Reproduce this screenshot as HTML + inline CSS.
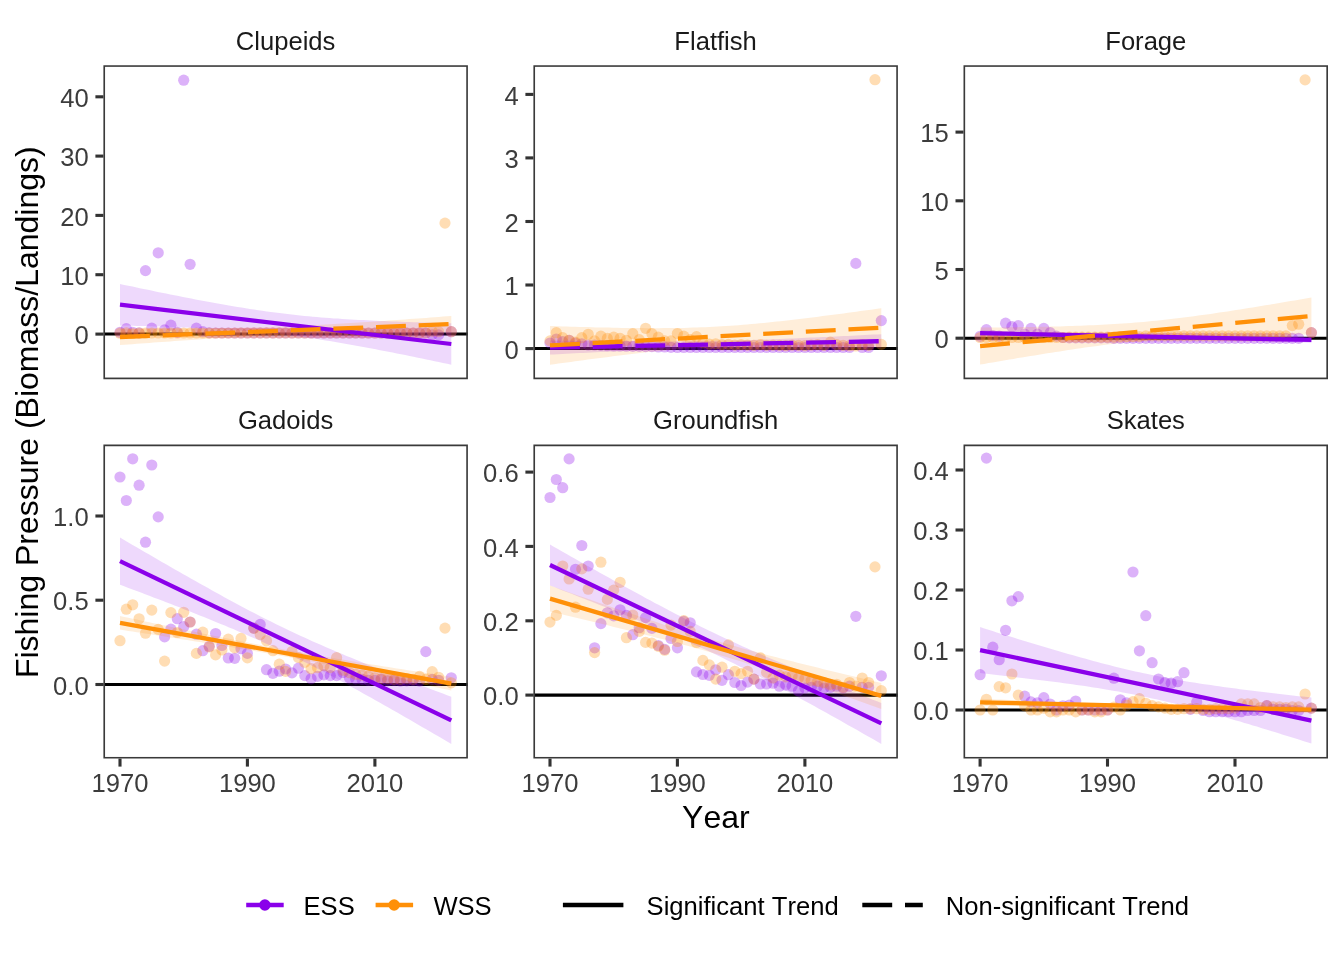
<!DOCTYPE html>
<html lang="en"><head><meta charset="utf-8"><title>Fishing Pressure</title>
<style>html,body{margin:0;padding:0;background:#fff}svg{display:block}text{font-family:"Liberation Sans",sans-serif;font-kerning:none}</style></head><body>
<svg width="1344" height="960" viewBox="0 0 1344 960">
<rect width="1344" height="960" fill="#fff"/>
<defs>
<clipPath id="c0"><rect x="103.4" y="65.2" width="364.5" height="314.00"/></clipPath>
<clipPath id="c1"><rect x="533.4" y="65.2" width="364.5" height="314.00"/></clipPath>
<clipPath id="c2"><rect x="963.5" y="65.2" width="364.5" height="314.00"/></clipPath>
<clipPath id="c3"><rect x="103.4" y="444.6" width="364.5" height="314.00"/></clipPath>
<clipPath id="c4"><rect x="533.4" y="444.6" width="364.5" height="314.00"/></clipPath>
<clipPath id="c5"><rect x="963.5" y="444.6" width="364.5" height="314.00"/></clipPath>
</defs>
<g clip-path="url(#c0)">
<line x1="103.4" x2="467.9" y1="334.05" y2="334.05" stroke="#000" stroke-width="3.1"/>
<g fill="#8A00EA" fill-opacity="0.3">
<circle cx="120.0" cy="332.3" r="5.6"/>
<circle cx="126.3" cy="328.7" r="5.6"/>
<circle cx="132.7" cy="332.3" r="5.6"/>
<circle cx="139.1" cy="332.9" r="5.6"/>
<circle cx="145.5" cy="270.6" r="5.6"/>
<circle cx="151.8" cy="328.1" r="5.6"/>
<circle cx="158.2" cy="252.8" r="5.6"/>
<circle cx="164.6" cy="329.9" r="5.6"/>
<circle cx="170.9" cy="325.2" r="5.6"/>
<circle cx="177.3" cy="332.3" r="5.6"/>
<circle cx="183.7" cy="80.2" r="5.6"/>
<circle cx="190.1" cy="264.3" r="5.6"/>
<circle cx="196.4" cy="328.1" r="5.6"/>
<circle cx="202.8" cy="331.7" r="5.6"/>
<circle cx="209.2" cy="332.9" r="5.6"/>
<circle cx="215.6" cy="333.0" r="5.6"/>
<circle cx="221.9" cy="333.0" r="5.6"/>
<circle cx="228.3" cy="333.0" r="5.6"/>
<circle cx="234.7" cy="333.0" r="5.6"/>
<circle cx="241.0" cy="333.0" r="5.6"/>
<circle cx="247.4" cy="333.0" r="5.6"/>
<circle cx="253.8" cy="333.0" r="5.6"/>
<circle cx="260.2" cy="333.0" r="5.6"/>
<circle cx="266.5" cy="333.0" r="5.6"/>
<circle cx="272.9" cy="333.0" r="5.6"/>
<circle cx="279.3" cy="333.0" r="5.6"/>
<circle cx="285.6" cy="333.0" r="5.6"/>
<circle cx="292.0" cy="333.0" r="5.6"/>
<circle cx="298.4" cy="333.0" r="5.6"/>
<circle cx="304.8" cy="333.0" r="5.6"/>
<circle cx="311.1" cy="333.0" r="5.6"/>
<circle cx="317.5" cy="333.0" r="5.6"/>
<circle cx="323.9" cy="333.0" r="5.6"/>
<circle cx="330.3" cy="333.0" r="5.6"/>
<circle cx="336.6" cy="333.0" r="5.6"/>
<circle cx="343.0" cy="333.0" r="5.6"/>
<circle cx="349.4" cy="333.0" r="5.6"/>
<circle cx="355.7" cy="333.0" r="5.6"/>
<circle cx="362.1" cy="333.0" r="5.6"/>
<circle cx="368.5" cy="333.0" r="5.6"/>
<circle cx="374.9" cy="333.0" r="5.6"/>
<circle cx="381.2" cy="333.0" r="5.6"/>
<circle cx="387.6" cy="333.0" r="5.6"/>
<circle cx="394.0" cy="333.0" r="5.6"/>
<circle cx="400.4" cy="333.0" r="5.6"/>
<circle cx="406.7" cy="333.0" r="5.6"/>
<circle cx="413.1" cy="333.0" r="5.6"/>
<circle cx="419.5" cy="333.0" r="5.6"/>
<circle cx="425.8" cy="333.0" r="5.6"/>
<circle cx="432.2" cy="334.8" r="5.6"/>
<circle cx="438.6" cy="334.9" r="5.6"/>
<circle cx="451.3" cy="331.7" r="5.6"/>
</g>
<g fill="#FF9008" fill-opacity="0.3">
<circle cx="120.0" cy="333.2" r="5.6"/>
<circle cx="126.3" cy="332.9" r="5.6"/>
<circle cx="132.7" cy="333.5" r="5.6"/>
<circle cx="139.1" cy="333.0" r="5.6"/>
<circle cx="145.5" cy="333.0" r="5.6"/>
<circle cx="151.8" cy="333.0" r="5.6"/>
<circle cx="158.2" cy="333.0" r="5.6"/>
<circle cx="164.6" cy="333.0" r="5.6"/>
<circle cx="170.9" cy="333.0" r="5.6"/>
<circle cx="177.3" cy="333.0" r="5.6"/>
<circle cx="183.7" cy="333.0" r="5.6"/>
<circle cx="190.1" cy="333.0" r="5.6"/>
<circle cx="196.4" cy="333.0" r="5.6"/>
<circle cx="202.8" cy="333.0" r="5.6"/>
<circle cx="209.2" cy="333.0" r="5.6"/>
<circle cx="215.6" cy="333.0" r="5.6"/>
<circle cx="221.9" cy="333.0" r="5.6"/>
<circle cx="228.3" cy="333.0" r="5.6"/>
<circle cx="234.7" cy="333.0" r="5.6"/>
<circle cx="241.0" cy="333.0" r="5.6"/>
<circle cx="247.4" cy="333.0" r="5.6"/>
<circle cx="253.8" cy="333.0" r="5.6"/>
<circle cx="260.2" cy="333.0" r="5.6"/>
<circle cx="266.5" cy="333.0" r="5.6"/>
<circle cx="272.9" cy="333.0" r="5.6"/>
<circle cx="279.3" cy="333.0" r="5.6"/>
<circle cx="285.6" cy="333.0" r="5.6"/>
<circle cx="292.0" cy="333.0" r="5.6"/>
<circle cx="298.4" cy="333.0" r="5.6"/>
<circle cx="304.8" cy="333.0" r="5.6"/>
<circle cx="311.1" cy="333.0" r="5.6"/>
<circle cx="317.5" cy="333.0" r="5.6"/>
<circle cx="323.9" cy="333.0" r="5.6"/>
<circle cx="330.3" cy="333.0" r="5.6"/>
<circle cx="336.6" cy="333.0" r="5.6"/>
<circle cx="343.0" cy="333.0" r="5.6"/>
<circle cx="349.4" cy="333.0" r="5.6"/>
<circle cx="355.7" cy="333.0" r="5.6"/>
<circle cx="362.1" cy="333.0" r="5.6"/>
<circle cx="368.5" cy="333.0" r="5.6"/>
<circle cx="374.9" cy="333.0" r="5.6"/>
<circle cx="381.2" cy="333.0" r="5.6"/>
<circle cx="387.6" cy="333.0" r="5.6"/>
<circle cx="394.0" cy="333.0" r="5.6"/>
<circle cx="400.4" cy="333.0" r="5.6"/>
<circle cx="406.7" cy="333.0" r="5.6"/>
<circle cx="413.1" cy="333.0" r="5.6"/>
<circle cx="419.5" cy="333.0" r="5.6"/>
<circle cx="425.8" cy="333.0" r="5.6"/>
<circle cx="432.2" cy="331.4" r="5.6"/>
<circle cx="438.6" cy="331.7" r="5.6"/>
<circle cx="445.0" cy="223.1" r="5.6"/>
<circle cx="451.3" cy="331.7" r="5.6"/>
</g>
<polygon points="120.0,284.0 124.2,284.9 128.4,285.8 132.6,286.6 136.7,287.5 140.9,288.4 145.1,289.3 149.3,290.1 153.5,291.0 157.7,291.9 161.9,292.7 166.1,293.6 170.3,294.4 174.5,295.2 178.7,296.1 182.9,296.9 187.1,297.7 191.3,298.5 195.5,299.4 199.7,300.2 203.9,300.9 208.1,301.7 212.2,302.5 216.4,303.3 220.6,304.0 224.8,304.8 229.0,305.5 233.2,306.2 237.4,306.9 241.6,307.6 245.8,308.3 250.0,308.9 254.2,309.6 258.4,310.2 262.6,310.8 266.8,311.4 271.0,312.0 275.2,312.5 279.4,313.1 283.6,313.6 287.7,314.1 291.9,314.6 296.1,315.0 300.3,315.5 304.5,315.9 308.7,316.3 312.9,316.7 317.1,317.1 321.3,317.4 325.5,317.7 329.7,318.1 333.9,318.4 338.1,318.6 342.3,318.9 346.5,319.2 350.7,319.4 354.9,319.7 359.1,319.9 363.2,320.1 367.4,320.3 371.6,320.6 375.8,320.7 380.0,320.9 384.2,321.1 388.4,321.3 392.6,321.5 396.8,321.6 401.0,321.8 405.2,321.9 409.4,322.1 413.6,322.2 417.8,322.3 422.0,322.5 426.2,322.6 430.4,322.7 434.6,322.8 438.7,323.0 442.9,323.1 447.1,323.2 451.3,323.3 451.3,364.7 447.1,363.8 442.9,362.9 438.7,362.1 434.6,361.2 430.4,360.3 426.2,359.4 422.0,358.6 417.8,357.7 413.6,356.8 409.4,356.0 405.2,355.1 401.0,354.3 396.8,353.5 392.6,352.6 388.4,351.8 384.2,351.0 380.0,350.2 375.8,349.3 371.6,348.5 367.4,347.8 363.2,347.0 359.1,346.2 354.9,345.4 350.7,344.7 346.5,343.9 342.3,343.2 338.1,342.5 333.9,341.8 329.7,341.1 325.5,340.4 321.3,339.8 317.1,339.1 312.9,338.5 308.7,337.9 304.5,337.3 300.3,336.7 296.1,336.2 291.9,335.6 287.7,335.1 283.6,334.6 279.4,334.1 275.2,333.7 271.0,333.2 266.8,332.8 262.6,332.4 258.4,332.0 254.2,331.6 250.0,331.3 245.8,331.0 241.6,330.6 237.4,330.3 233.2,330.1 229.0,329.8 224.8,329.5 220.6,329.3 216.4,329.0 212.2,328.8 208.1,328.6 203.9,328.4 199.7,328.1 195.5,328.0 191.3,327.8 187.1,327.6 182.9,327.4 178.7,327.2 174.5,327.1 170.3,326.9 166.1,326.8 161.9,326.6 157.7,326.5 153.5,326.4 149.3,326.2 145.1,326.1 140.9,326.0 136.7,325.9 132.6,325.7 128.4,325.6 124.2,325.5 120.0,325.4" fill="#8A00EA" fill-opacity="0.15"/>
<polygon points="120.0,328.9 124.2,328.9 128.4,328.9 132.6,328.9 136.7,328.8 140.9,328.8 145.1,328.8 149.3,328.8 153.5,328.8 157.7,328.8 161.9,328.7 166.1,328.7 170.3,328.7 174.5,328.6 178.7,328.6 182.9,328.6 187.1,328.5 191.3,328.5 195.5,328.5 199.7,328.4 203.9,328.4 208.1,328.3 212.2,328.3 216.4,328.2 220.6,328.1 224.8,328.1 229.0,328.0 233.2,327.9 237.4,327.8 241.6,327.8 245.8,327.7 250.0,327.6 254.2,327.5 258.4,327.3 262.6,327.2 266.8,327.1 271.0,327.0 275.2,326.8 279.4,326.7 283.6,326.5 287.7,326.4 291.9,326.2 296.1,326.0 300.3,325.8 304.5,325.6 308.7,325.4 312.9,325.2 317.1,325.0 321.3,324.8 325.5,324.6 329.7,324.3 333.9,324.1 338.1,323.8 342.3,323.6 346.5,323.3 350.7,323.1 354.9,322.8 359.1,322.6 363.2,322.3 367.4,322.0 371.6,321.7 375.8,321.4 380.0,321.2 384.2,320.9 388.4,320.6 392.6,320.3 396.8,320.0 401.0,319.7 405.2,319.4 409.4,319.1 413.6,318.8 417.8,318.5 422.0,318.2 426.2,317.9 430.4,317.6 434.6,317.3 438.7,316.9 442.9,316.6 447.1,316.3 451.3,316.0 451.3,332.2 447.1,332.2 442.9,332.2 438.7,332.2 434.6,332.3 430.4,332.3 426.2,332.3 422.0,332.3 417.8,332.3 413.6,332.3 409.4,332.4 405.2,332.4 401.0,332.4 396.8,332.5 392.6,332.5 388.4,332.5 384.2,332.6 380.0,332.6 375.8,332.6 371.6,332.7 367.4,332.7 363.2,332.8 359.1,332.8 354.9,332.9 350.7,333.0 346.5,333.0 342.3,333.1 338.1,333.2 333.9,333.3 329.7,333.3 325.5,333.4 321.3,333.5 317.1,333.6 312.9,333.8 308.7,333.9 304.5,334.0 300.3,334.1 296.1,334.3 291.9,334.4 287.7,334.6 283.6,334.7 279.4,334.9 275.2,335.1 271.0,335.3 266.8,335.5 262.6,335.7 258.4,335.9 254.2,336.1 250.0,336.3 245.8,336.5 241.6,336.8 237.4,337.0 233.2,337.3 229.0,337.5 224.8,337.8 220.6,338.0 216.4,338.3 212.2,338.5 208.1,338.8 203.9,339.1 199.7,339.4 195.5,339.7 191.3,339.9 187.1,340.2 182.9,340.5 178.7,340.8 174.5,341.1 170.3,341.4 166.1,341.7 161.9,342.0 157.7,342.3 153.5,342.6 149.3,342.9 145.1,343.2 140.9,343.5 136.7,343.8 132.6,344.2 128.4,344.5 124.2,344.8 120.0,345.1" fill="#FF9008" fill-opacity="0.15"/>
<line x1="120.0" y1="304.7" x2="451.3" y2="344.0" stroke="#8A00EA" stroke-width="4.27"/>
<line x1="120.0" y1="337.0" x2="451.3" y2="324.1" stroke="#FF9008" stroke-width="4.27" stroke-dasharray="29.89 12.81"/>
<rect x="103.4" y="65.2" width="364.5" height="314.00" fill="none" stroke="#3a3a3a" stroke-width="3.3"/>
</g>
<text x="285.6" y="50.1" font-size="25.6" fill="#1A1A1A" text-anchor="middle">Clupeids</text>
<line x1="95.4" x2="103.4" y1="334.1" y2="334.1" stroke="#333" stroke-width="3.1"/>
<text x="88.7" y="344.2" font-size="25.6" fill="#3C3C3C" text-anchor="end">0</text>
<line x1="95.4" x2="103.4" y1="274.7" y2="274.7" stroke="#333" stroke-width="3.1"/>
<text x="88.7" y="284.8" font-size="25.6" fill="#3C3C3C" text-anchor="end">10</text>
<line x1="95.4" x2="103.4" y1="215.4" y2="215.4" stroke="#333" stroke-width="3.1"/>
<text x="88.7" y="225.5" font-size="25.6" fill="#3C3C3C" text-anchor="end">20</text>
<line x1="95.4" x2="103.4" y1="156.1" y2="156.1" stroke="#333" stroke-width="3.1"/>
<text x="88.7" y="166.2" font-size="25.6" fill="#3C3C3C" text-anchor="end">30</text>
<line x1="95.4" x2="103.4" y1="96.8" y2="96.8" stroke="#333" stroke-width="3.1"/>
<text x="88.7" y="106.9" font-size="25.6" fill="#3C3C3C" text-anchor="end">40</text>
<g clip-path="url(#c1)">
<line x1="533.4" x2="897.9" y1="348.55" y2="348.55" stroke="#000" stroke-width="3.1"/>
<g fill="#8A00EA" fill-opacity="0.3">
<circle cx="550.0" cy="343.0" r="5.6"/>
<circle cx="556.3" cy="339.0" r="5.6"/>
<circle cx="562.7" cy="341.6" r="5.6"/>
<circle cx="569.1" cy="340.3" r="5.6"/>
<circle cx="575.5" cy="343.2" r="5.6"/>
<circle cx="581.8" cy="343.8" r="5.6"/>
<circle cx="588.2" cy="345.0" r="5.6"/>
<circle cx="594.6" cy="345.0" r="5.6"/>
<circle cx="600.9" cy="345.4" r="5.6"/>
<circle cx="607.3" cy="345.7" r="5.6"/>
<circle cx="613.7" cy="346.0" r="5.6"/>
<circle cx="620.1" cy="346.0" r="5.6"/>
<circle cx="626.4" cy="346.2" r="5.6"/>
<circle cx="632.8" cy="346.3" r="5.6"/>
<circle cx="639.2" cy="346.3" r="5.6"/>
<circle cx="645.6" cy="346.6" r="5.6"/>
<circle cx="651.9" cy="346.6" r="5.6"/>
<circle cx="658.3" cy="347.0" r="5.6"/>
<circle cx="664.7" cy="347.0" r="5.6"/>
<circle cx="671.0" cy="347.3" r="5.6"/>
<circle cx="677.4" cy="347.5" r="5.6"/>
<circle cx="683.8" cy="347.5" r="5.6"/>
<circle cx="690.2" cy="347.5" r="5.6"/>
<circle cx="696.5" cy="347.5" r="5.6"/>
<circle cx="702.9" cy="347.5" r="5.6"/>
<circle cx="709.3" cy="347.5" r="5.6"/>
<circle cx="715.7" cy="347.5" r="5.6"/>
<circle cx="722.0" cy="347.5" r="5.6"/>
<circle cx="728.4" cy="347.5" r="5.6"/>
<circle cx="734.8" cy="347.5" r="5.6"/>
<circle cx="741.1" cy="347.5" r="5.6"/>
<circle cx="747.5" cy="347.5" r="5.6"/>
<circle cx="753.9" cy="347.5" r="5.6"/>
<circle cx="760.3" cy="347.5" r="5.6"/>
<circle cx="766.6" cy="347.5" r="5.6"/>
<circle cx="773.0" cy="347.5" r="5.6"/>
<circle cx="779.4" cy="347.5" r="5.6"/>
<circle cx="785.7" cy="347.5" r="5.6"/>
<circle cx="792.1" cy="347.5" r="5.6"/>
<circle cx="798.5" cy="347.5" r="5.6"/>
<circle cx="804.9" cy="347.5" r="5.6"/>
<circle cx="811.2" cy="347.5" r="5.6"/>
<circle cx="817.6" cy="347.5" r="5.6"/>
<circle cx="824.0" cy="347.5" r="5.6"/>
<circle cx="830.4" cy="347.5" r="5.6"/>
<circle cx="836.7" cy="347.5" r="5.6"/>
<circle cx="843.1" cy="347.5" r="5.6"/>
<circle cx="849.5" cy="347.5" r="5.6"/>
<circle cx="855.8" cy="263.4" r="5.6"/>
<circle cx="862.2" cy="347.5" r="5.6"/>
<circle cx="868.6" cy="347.5" r="5.6"/>
<circle cx="881.3" cy="320.6" r="5.6"/>
</g>
<g fill="#FF9008" fill-opacity="0.3">
<circle cx="550.0" cy="340.9" r="5.6"/>
<circle cx="556.3" cy="332.7" r="5.6"/>
<circle cx="562.7" cy="337.7" r="5.6"/>
<circle cx="569.1" cy="340.3" r="5.6"/>
<circle cx="575.5" cy="342.2" r="5.6"/>
<circle cx="581.8" cy="337.7" r="5.6"/>
<circle cx="588.2" cy="334.3" r="5.6"/>
<circle cx="594.6" cy="340.9" r="5.6"/>
<circle cx="600.9" cy="336.1" r="5.6"/>
<circle cx="607.3" cy="338.4" r="5.6"/>
<circle cx="613.7" cy="337.2" r="5.6"/>
<circle cx="620.1" cy="338.4" r="5.6"/>
<circle cx="626.4" cy="340.3" r="5.6"/>
<circle cx="632.8" cy="333.7" r="5.6"/>
<circle cx="639.2" cy="339.7" r="5.6"/>
<circle cx="645.6" cy="328.3" r="5.6"/>
<circle cx="651.9" cy="333.7" r="5.6"/>
<circle cx="658.3" cy="337.2" r="5.6"/>
<circle cx="664.7" cy="340.9" r="5.6"/>
<circle cx="671.0" cy="340.9" r="5.6"/>
<circle cx="677.4" cy="333.5" r="5.6"/>
<circle cx="683.8" cy="336.1" r="5.6"/>
<circle cx="690.2" cy="339.7" r="5.6"/>
<circle cx="696.5" cy="336.7" r="5.6"/>
<circle cx="702.9" cy="342.8" r="5.6"/>
<circle cx="709.3" cy="344.1" r="5.6"/>
<circle cx="715.7" cy="343.8" r="5.6"/>
<circle cx="722.0" cy="344.7" r="5.6"/>
<circle cx="728.4" cy="344.4" r="5.6"/>
<circle cx="734.8" cy="345.1" r="5.6"/>
<circle cx="741.1" cy="344.7" r="5.6"/>
<circle cx="747.5" cy="345.1" r="5.6"/>
<circle cx="753.9" cy="345.4" r="5.6"/>
<circle cx="760.3" cy="344.7" r="5.6"/>
<circle cx="766.6" cy="345.4" r="5.6"/>
<circle cx="773.0" cy="345.1" r="5.6"/>
<circle cx="779.4" cy="345.4" r="5.6"/>
<circle cx="785.7" cy="345.7" r="5.6"/>
<circle cx="792.1" cy="345.1" r="5.6"/>
<circle cx="798.5" cy="345.4" r="5.6"/>
<circle cx="804.9" cy="345.7" r="5.6"/>
<circle cx="811.2" cy="345.1" r="5.6"/>
<circle cx="817.6" cy="344.7" r="5.6"/>
<circle cx="824.0" cy="345.4" r="5.6"/>
<circle cx="830.4" cy="342.2" r="5.6"/>
<circle cx="836.7" cy="344.7" r="5.6"/>
<circle cx="843.1" cy="345.4" r="5.6"/>
<circle cx="849.5" cy="345.7" r="5.6"/>
<circle cx="855.8" cy="346.0" r="5.6"/>
<circle cx="862.2" cy="344.7" r="5.6"/>
<circle cx="868.6" cy="345.4" r="5.6"/>
<circle cx="875.0" cy="79.7" r="5.6"/>
<circle cx="881.3" cy="344.4" r="5.6"/>
</g>
<polygon points="550.0,340.6 554.2,340.7 558.4,340.7 562.6,340.7 566.7,340.8 570.9,340.8 575.1,340.9 579.3,340.9 583.5,341.0 587.7,341.0 591.9,341.1 596.1,341.1 600.3,341.1 604.5,341.2 608.7,341.2 612.9,341.2 617.1,341.3 621.3,341.3 625.5,341.3 629.7,341.3 633.9,341.3 638.1,341.4 642.2,341.4 646.4,341.4 650.6,341.4 654.8,341.4 659.0,341.4 663.2,341.4 667.4,341.4 671.6,341.4 675.8,341.3 680.0,341.3 684.2,341.3 688.4,341.2 692.6,341.2 696.8,341.1 701.0,341.1 705.2,341.0 709.4,341.0 713.6,340.9 717.7,340.8 721.9,340.7 726.1,340.6 730.3,340.5 734.5,340.4 738.7,340.3 742.9,340.2 747.1,340.1 751.3,339.9 755.5,339.8 759.7,339.7 763.9,339.5 768.1,339.4 772.3,339.2 776.5,339.0 780.7,338.9 784.9,338.7 789.1,338.5 793.2,338.4 797.4,338.2 801.6,338.0 805.8,337.8 810.0,337.6 814.2,337.4 818.4,337.3 822.6,337.1 826.8,336.9 831.0,336.7 835.2,336.5 839.4,336.3 843.6,336.1 847.8,335.9 852.0,335.7 856.2,335.5 860.4,335.3 864.6,335.0 868.7,334.8 872.9,334.6 877.1,334.4 881.3,334.2 881.3,348.2 877.1,348.1 872.9,348.1 868.7,348.1 864.6,348.0 860.4,348.0 856.2,347.9 852.0,347.9 847.8,347.8 843.6,347.8 839.4,347.7 835.2,347.7 831.0,347.7 826.8,347.6 822.6,347.6 818.4,347.6 814.2,347.5 810.0,347.5 805.8,347.5 801.6,347.5 797.4,347.5 793.2,347.4 789.1,347.4 784.9,347.4 780.7,347.4 776.5,347.4 772.3,347.4 768.1,347.4 763.9,347.4 759.7,347.4 755.5,347.5 751.3,347.5 747.1,347.5 742.9,347.6 738.7,347.6 734.5,347.7 730.3,347.7 726.1,347.8 721.9,347.8 717.7,347.9 713.6,348.0 709.4,348.1 705.2,348.2 701.0,348.3 696.8,348.4 692.6,348.5 688.4,348.6 684.2,348.7 680.0,348.9 675.8,349.0 671.6,349.1 667.4,349.3 663.2,349.4 659.0,349.6 654.8,349.8 650.6,349.9 646.4,350.1 642.2,350.3 638.1,350.4 633.9,350.6 629.7,350.8 625.5,351.0 621.3,351.2 617.1,351.4 612.9,351.5 608.7,351.7 604.5,351.9 600.3,352.1 596.1,352.3 591.9,352.5 587.7,352.7 583.5,352.9 579.3,353.1 575.1,353.3 570.9,353.5 566.7,353.8 562.6,354.0 558.4,354.2 554.2,354.4 550.0,354.6" fill="#8A00EA" fill-opacity="0.15"/>
<polygon points="550.0,326.0 554.2,326.1 558.4,326.3 562.6,326.4 566.7,326.5 570.9,326.7 575.1,326.8 579.3,326.9 583.5,327.0 587.7,327.1 591.9,327.2 596.1,327.4 600.3,327.5 604.5,327.6 608.7,327.6 612.9,327.7 617.1,327.8 621.3,327.9 625.5,327.9 629.7,328.0 633.9,328.1 638.1,328.1 642.2,328.1 646.4,328.2 650.6,328.2 654.8,328.2 659.0,328.2 663.2,328.1 667.4,328.1 671.6,328.1 675.8,328.0 680.0,327.9 684.2,327.9 688.4,327.7 692.6,327.6 696.8,327.5 701.0,327.3 705.2,327.2 709.4,327.0 713.6,326.8 717.7,326.5 721.9,326.3 726.1,326.0 730.3,325.8 734.5,325.5 738.7,325.2 742.9,324.8 747.1,324.5 751.3,324.1 755.5,323.7 759.7,323.3 763.9,322.9 768.1,322.5 772.3,322.1 776.5,321.6 780.7,321.2 784.9,320.7 789.1,320.2 793.2,319.8 797.4,319.3 801.6,318.8 805.8,318.3 810.0,317.7 814.2,317.2 818.4,316.7 822.6,316.1 826.8,315.6 831.0,315.1 835.2,314.5 839.4,314.0 843.6,313.4 847.8,312.8 852.0,312.3 856.2,311.7 860.4,311.1 864.6,310.5 868.7,310.0 872.9,309.4 877.1,308.8 881.3,308.2 881.3,347.0 877.1,346.9 872.9,346.7 868.7,346.6 864.6,346.5 860.4,346.3 856.2,346.2 852.0,346.1 847.8,346.0 843.6,345.9 839.4,345.8 835.2,345.6 831.0,345.5 826.8,345.4 822.6,345.4 818.4,345.3 814.2,345.2 810.0,345.1 805.8,345.1 801.6,345.0 797.4,344.9 793.2,344.9 789.1,344.9 784.9,344.8 780.7,344.8 776.5,344.8 772.3,344.8 768.1,344.9 763.9,344.9 759.7,344.9 755.5,345.0 751.3,345.1 747.1,345.1 742.9,345.3 738.7,345.4 734.5,345.5 730.3,345.7 726.1,345.8 721.9,346.0 717.7,346.2 713.6,346.5 709.4,346.7 705.2,347.0 701.0,347.2 696.8,347.5 692.6,347.8 688.4,348.2 684.2,348.5 680.0,348.9 675.8,349.3 671.6,349.7 667.4,350.1 663.2,350.5 659.0,350.9 654.8,351.4 650.6,351.8 646.4,352.3 642.2,352.8 638.1,353.2 633.9,353.7 629.7,354.2 625.5,354.7 621.3,355.3 617.1,355.8 612.9,356.3 608.7,356.9 604.5,357.4 600.3,357.9 596.1,358.5 591.9,359.0 587.7,359.6 583.5,360.2 579.3,360.7 575.1,361.3 570.9,361.9 566.7,362.5 562.6,363.0 558.4,363.6 554.2,364.2 550.0,364.8" fill="#FF9008" fill-opacity="0.15"/>
<line x1="550.0" y1="347.6" x2="881.3" y2="341.2" stroke="#8A00EA" stroke-width="4.27" stroke-dasharray="29.89 12.81"/>
<line x1="550.0" y1="345.4" x2="881.3" y2="327.6" stroke="#FF9008" stroke-width="4.27" stroke-dasharray="29.89 12.81"/>
<rect x="533.4" y="65.2" width="364.5" height="314.00" fill="none" stroke="#3a3a3a" stroke-width="3.3"/>
</g>
<text x="715.6" y="50.1" font-size="25.6" fill="#1A1A1A" text-anchor="middle">Flatfish</text>
<line x1="525.4" x2="533.4" y1="348.6" y2="348.6" stroke="#333" stroke-width="3.1"/>
<text x="518.7" y="358.7" font-size="25.6" fill="#3C3C3C" text-anchor="end">0</text>
<line x1="525.4" x2="533.4" y1="285.0" y2="285.0" stroke="#333" stroke-width="3.1"/>
<text x="518.7" y="295.1" font-size="25.6" fill="#3C3C3C" text-anchor="end">1</text>
<line x1="525.4" x2="533.4" y1="221.5" y2="221.5" stroke="#333" stroke-width="3.1"/>
<text x="518.7" y="231.6" font-size="25.6" fill="#3C3C3C" text-anchor="end">2</text>
<line x1="525.4" x2="533.4" y1="157.9" y2="157.9" stroke="#333" stroke-width="3.1"/>
<text x="518.7" y="168.0" font-size="25.6" fill="#3C3C3C" text-anchor="end">3</text>
<line x1="525.4" x2="533.4" y1="94.4" y2="94.4" stroke="#333" stroke-width="3.1"/>
<text x="518.7" y="104.5" font-size="25.6" fill="#3C3C3C" text-anchor="end">4</text>
<g clip-path="url(#c2)">
<line x1="963.5" x2="1328.0" y1="338.2" y2="338.2" stroke="#000" stroke-width="3.1"/>
<g fill="#8A00EA" fill-opacity="0.3">
<circle cx="980.1" cy="336.3" r="5.6"/>
<circle cx="986.4" cy="329.7" r="5.6"/>
<circle cx="992.8" cy="335.5" r="5.6"/>
<circle cx="999.2" cy="336.1" r="5.6"/>
<circle cx="1005.6" cy="323.2" r="5.6"/>
<circle cx="1011.9" cy="326.7" r="5.6"/>
<circle cx="1018.3" cy="325.6" r="5.6"/>
<circle cx="1024.7" cy="334.1" r="5.6"/>
<circle cx="1031.0" cy="328.4" r="5.6"/>
<circle cx="1037.4" cy="334.1" r="5.6"/>
<circle cx="1043.8" cy="328.4" r="5.6"/>
<circle cx="1050.2" cy="332.7" r="5.6"/>
<circle cx="1056.5" cy="336.1" r="5.6"/>
<circle cx="1062.9" cy="337.5" r="5.6"/>
<circle cx="1069.3" cy="337.8" r="5.6"/>
<circle cx="1075.7" cy="337.8" r="5.6"/>
<circle cx="1082.0" cy="337.8" r="5.6"/>
<circle cx="1088.4" cy="337.8" r="5.6"/>
<circle cx="1094.8" cy="337.8" r="5.6"/>
<circle cx="1101.1" cy="337.8" r="5.6"/>
<circle cx="1107.5" cy="337.8" r="5.6"/>
<circle cx="1113.9" cy="338.3" r="5.6"/>
<circle cx="1120.3" cy="338.3" r="5.6"/>
<circle cx="1126.6" cy="338.3" r="5.6"/>
<circle cx="1133.0" cy="338.3" r="5.6"/>
<circle cx="1139.4" cy="338.3" r="5.6"/>
<circle cx="1145.8" cy="338.3" r="5.6"/>
<circle cx="1152.1" cy="338.3" r="5.6"/>
<circle cx="1158.5" cy="338.3" r="5.6"/>
<circle cx="1164.9" cy="338.3" r="5.6"/>
<circle cx="1171.2" cy="338.3" r="5.6"/>
<circle cx="1177.6" cy="338.3" r="5.6"/>
<circle cx="1184.0" cy="338.3" r="5.6"/>
<circle cx="1190.4" cy="338.3" r="5.6"/>
<circle cx="1196.7" cy="338.3" r="5.6"/>
<circle cx="1203.1" cy="338.3" r="5.6"/>
<circle cx="1209.5" cy="338.3" r="5.6"/>
<circle cx="1215.8" cy="338.3" r="5.6"/>
<circle cx="1222.2" cy="338.3" r="5.6"/>
<circle cx="1228.6" cy="338.3" r="5.6"/>
<circle cx="1235.0" cy="338.3" r="5.6"/>
<circle cx="1241.3" cy="338.3" r="5.6"/>
<circle cx="1247.7" cy="338.3" r="5.6"/>
<circle cx="1254.1" cy="338.3" r="5.6"/>
<circle cx="1260.5" cy="338.3" r="5.6"/>
<circle cx="1266.8" cy="338.3" r="5.6"/>
<circle cx="1273.2" cy="338.3" r="5.6"/>
<circle cx="1279.6" cy="338.3" r="5.6"/>
<circle cx="1285.9" cy="338.3" r="5.6"/>
<circle cx="1292.3" cy="338.3" r="5.6"/>
<circle cx="1298.7" cy="338.3" r="5.6"/>
<circle cx="1311.4" cy="332.7" r="5.6"/>
</g>
<g fill="#FF9008" fill-opacity="0.3">
<circle cx="980.1" cy="337.5" r="5.6"/>
<circle cx="986.4" cy="337.5" r="5.6"/>
<circle cx="992.8" cy="337.5" r="5.6"/>
<circle cx="999.2" cy="337.5" r="5.6"/>
<circle cx="1005.6" cy="337.5" r="5.6"/>
<circle cx="1011.9" cy="337.5" r="5.6"/>
<circle cx="1018.3" cy="337.5" r="5.6"/>
<circle cx="1024.7" cy="337.5" r="5.6"/>
<circle cx="1031.0" cy="337.5" r="5.6"/>
<circle cx="1037.4" cy="337.5" r="5.6"/>
<circle cx="1043.8" cy="337.5" r="5.6"/>
<circle cx="1050.2" cy="337.5" r="5.6"/>
<circle cx="1056.5" cy="337.5" r="5.6"/>
<circle cx="1062.9" cy="337.5" r="5.6"/>
<circle cx="1069.3" cy="337.1" r="5.6"/>
<circle cx="1075.7" cy="337.1" r="5.6"/>
<circle cx="1082.0" cy="337.1" r="5.6"/>
<circle cx="1088.4" cy="337.1" r="5.6"/>
<circle cx="1094.8" cy="337.1" r="5.6"/>
<circle cx="1101.1" cy="337.1" r="5.6"/>
<circle cx="1107.5" cy="337.1" r="5.6"/>
<circle cx="1113.9" cy="337.1" r="5.6"/>
<circle cx="1120.3" cy="336.6" r="5.6"/>
<circle cx="1126.6" cy="336.6" r="5.6"/>
<circle cx="1133.0" cy="336.6" r="5.6"/>
<circle cx="1139.4" cy="336.6" r="5.6"/>
<circle cx="1145.8" cy="335.9" r="5.6"/>
<circle cx="1152.1" cy="335.9" r="5.6"/>
<circle cx="1158.5" cy="335.9" r="5.6"/>
<circle cx="1164.9" cy="335.9" r="5.6"/>
<circle cx="1171.2" cy="335.9" r="5.6"/>
<circle cx="1177.6" cy="335.9" r="5.6"/>
<circle cx="1184.0" cy="335.9" r="5.6"/>
<circle cx="1190.4" cy="335.9" r="5.6"/>
<circle cx="1196.7" cy="335.9" r="5.6"/>
<circle cx="1203.1" cy="335.9" r="5.6"/>
<circle cx="1209.5" cy="335.9" r="5.6"/>
<circle cx="1215.8" cy="335.9" r="5.6"/>
<circle cx="1222.2" cy="335.9" r="5.6"/>
<circle cx="1228.6" cy="335.9" r="5.6"/>
<circle cx="1235.0" cy="335.9" r="5.6"/>
<circle cx="1241.3" cy="335.9" r="5.6"/>
<circle cx="1247.7" cy="335.9" r="5.6"/>
<circle cx="1254.1" cy="335.9" r="5.6"/>
<circle cx="1260.5" cy="335.9" r="5.6"/>
<circle cx="1266.8" cy="335.9" r="5.6"/>
<circle cx="1273.2" cy="335.9" r="5.6"/>
<circle cx="1279.6" cy="335.9" r="5.6"/>
<circle cx="1285.9" cy="335.9" r="5.6"/>
<circle cx="1292.3" cy="325.6" r="5.6"/>
<circle cx="1298.7" cy="324.2" r="5.6"/>
<circle cx="1305.1" cy="79.9" r="5.6"/>
<circle cx="1311.4" cy="332.7" r="5.6"/>
</g>
<polygon points="980.1,330.2 984.3,330.3 988.5,330.5 992.7,330.6 996.8,330.8 1001.0,330.9 1005.2,331.0 1009.4,331.2 1013.6,331.3 1017.8,331.4 1022.0,331.6 1026.2,331.7 1030.4,331.9 1034.6,332.0 1038.8,332.1 1043.0,332.3 1047.2,332.4 1051.4,332.5 1055.6,332.6 1059.8,332.8 1064.0,332.9 1068.2,333.0 1072.3,333.1 1076.5,333.3 1080.7,333.4 1084.9,333.5 1089.1,333.6 1093.3,333.7 1097.5,333.9 1101.7,334.0 1105.9,334.1 1110.1,334.2 1114.3,334.3 1118.5,334.4 1122.7,334.5 1126.9,334.6 1131.1,334.7 1135.3,334.8 1139.5,334.9 1143.7,335.0 1147.8,335.0 1152.0,335.1 1156.2,335.2 1160.4,335.3 1164.6,335.4 1168.8,335.4 1173.0,335.5 1177.2,335.6 1181.4,335.6 1185.6,335.7 1189.8,335.7 1194.0,335.8 1198.2,335.8 1202.4,335.9 1206.6,336.0 1210.8,336.0 1215.0,336.0 1219.2,336.1 1223.3,336.1 1227.5,336.2 1231.7,336.2 1235.9,336.3 1240.1,336.3 1244.3,336.3 1248.5,336.4 1252.7,336.4 1256.9,336.4 1261.1,336.5 1265.3,336.5 1269.5,336.5 1273.7,336.6 1277.9,336.6 1282.1,336.6 1286.3,336.7 1290.5,336.7 1294.7,336.7 1298.8,336.8 1303.0,336.8 1307.2,336.8 1311.4,336.9 1311.4,342.9 1307.2,342.7 1303.0,342.6 1298.8,342.4 1294.7,342.3 1290.5,342.2 1286.3,342.0 1282.1,341.9 1277.9,341.7 1273.7,341.6 1269.5,341.5 1265.3,341.3 1261.1,341.2 1256.9,341.1 1252.7,340.9 1248.5,340.8 1244.3,340.7 1240.1,340.5 1235.9,340.4 1231.7,340.3 1227.5,340.2 1223.3,340.0 1219.2,339.9 1215.0,339.8 1210.8,339.7 1206.6,339.5 1202.4,339.4 1198.2,339.3 1194.0,339.2 1189.8,339.1 1185.6,339.0 1181.4,338.9 1177.2,338.8 1173.0,338.7 1168.8,338.6 1164.6,338.5 1160.4,338.4 1156.2,338.3 1152.0,338.2 1147.8,338.1 1143.7,338.0 1139.5,337.9 1135.3,337.8 1131.1,337.8 1126.9,337.7 1122.7,337.6 1118.5,337.6 1114.3,337.5 1110.1,337.4 1105.9,337.4 1101.7,337.3 1097.5,337.3 1093.3,337.2 1089.1,337.1 1084.9,337.1 1080.7,337.0 1076.5,337.0 1072.3,337.0 1068.2,336.9 1064.0,336.9 1059.8,336.8 1055.6,336.8 1051.4,336.7 1047.2,336.7 1043.0,336.7 1038.8,336.6 1034.6,336.6 1030.4,336.6 1026.2,336.5 1022.0,336.5 1017.8,336.5 1013.6,336.4 1009.4,336.4 1005.2,336.4 1001.0,336.3 996.8,336.3 992.7,336.3 988.5,336.3 984.3,336.2 980.1,336.2" fill="#8A00EA" fill-opacity="0.15"/>
<polygon points="980.1,327.6 984.3,327.6 988.5,327.5 992.7,327.5 996.8,327.4 1001.0,327.4 1005.2,327.4 1009.4,327.3 1013.6,327.3 1017.8,327.2 1022.0,327.1 1026.2,327.1 1030.4,327.0 1034.6,326.9 1038.8,326.8 1043.0,326.8 1047.2,326.7 1051.4,326.6 1055.6,326.5 1059.8,326.4 1064.0,326.2 1068.2,326.1 1072.3,326.0 1076.5,325.8 1080.7,325.7 1084.9,325.5 1089.1,325.3 1093.3,325.2 1097.5,325.0 1101.7,324.8 1105.9,324.5 1110.1,324.3 1114.3,324.0 1118.5,323.8 1122.7,323.5 1126.9,323.2 1131.1,322.9 1135.3,322.6 1139.5,322.2 1143.7,321.9 1147.8,321.5 1152.0,321.1 1156.2,320.7 1160.4,320.2 1164.6,319.8 1168.8,319.3 1173.0,318.8 1177.2,318.3 1181.4,317.8 1185.6,317.3 1189.8,316.8 1194.0,316.2 1198.2,315.6 1202.4,315.1 1206.6,314.5 1210.8,313.9 1215.0,313.3 1219.2,312.6 1223.3,312.0 1227.5,311.4 1231.7,310.7 1235.9,310.1 1240.1,309.4 1244.3,308.8 1248.5,308.1 1252.7,307.4 1256.9,306.7 1261.1,306.0 1265.3,305.3 1269.5,304.7 1273.7,304.0 1277.9,303.2 1282.1,302.5 1286.3,301.8 1290.5,301.1 1294.7,300.4 1298.8,299.7 1303.0,299.0 1307.2,298.2 1311.4,297.5 1311.4,334.5 1307.2,334.5 1303.0,334.6 1298.8,334.6 1294.7,334.7 1290.5,334.7 1286.3,334.7 1282.1,334.8 1277.9,334.8 1273.7,334.9 1269.5,335.0 1265.3,335.0 1261.1,335.1 1256.9,335.2 1252.7,335.3 1248.5,335.3 1244.3,335.4 1240.1,335.5 1235.9,335.6 1231.7,335.7 1227.5,335.9 1223.3,336.0 1219.2,336.1 1215.0,336.3 1210.8,336.4 1206.6,336.6 1202.4,336.8 1198.2,336.9 1194.0,337.1 1189.8,337.3 1185.6,337.6 1181.4,337.8 1177.2,338.1 1173.0,338.3 1168.8,338.6 1164.6,338.9 1160.4,339.2 1156.2,339.5 1152.0,339.9 1147.8,340.2 1143.7,340.6 1139.5,341.0 1135.3,341.4 1131.1,341.9 1126.9,342.3 1122.7,342.8 1118.5,343.3 1114.3,343.8 1110.1,344.3 1105.9,344.8 1101.7,345.3 1097.5,345.9 1093.3,346.5 1089.1,347.0 1084.9,347.6 1080.7,348.2 1076.5,348.8 1072.3,349.5 1068.2,350.1 1064.0,350.7 1059.8,351.4 1055.6,352.0 1051.4,352.7 1047.2,353.3 1043.0,354.0 1038.8,354.7 1034.6,355.4 1030.4,356.1 1026.2,356.8 1022.0,357.4 1017.8,358.1 1013.6,358.9 1009.4,359.6 1005.2,360.3 1001.0,361.0 996.8,361.7 992.7,362.4 988.5,363.1 984.3,363.9 980.1,364.6" fill="#FF9008" fill-opacity="0.15"/>
<line x1="980.1" y1="333.2" x2="1311.4" y2="339.85" stroke="#8A00EA" stroke-width="4.27"/>
<line x1="980.1" y1="346.1" x2="1311.4" y2="316.0" stroke="#FF9008" stroke-width="4.27" stroke-dasharray="29.89 12.81"/>
<rect x="963.5" y="65.2" width="364.5" height="314.00" fill="none" stroke="#3a3a3a" stroke-width="3.3"/>
</g>
<text x="1145.8" y="50.1" font-size="25.6" fill="#1A1A1A" text-anchor="middle">Forage</text>
<line x1="955.5" x2="963.5" y1="338.2" y2="338.2" stroke="#333" stroke-width="3.1"/>
<text x="948.8" y="348.3" font-size="25.6" fill="#3C3C3C" text-anchor="end">0</text>
<line x1="955.5" x2="963.5" y1="269.5" y2="269.5" stroke="#333" stroke-width="3.1"/>
<text x="948.8" y="279.6" font-size="25.6" fill="#3C3C3C" text-anchor="end">5</text>
<line x1="955.5" x2="963.5" y1="200.8" y2="200.8" stroke="#333" stroke-width="3.1"/>
<text x="948.8" y="210.9" font-size="25.6" fill="#3C3C3C" text-anchor="end">10</text>
<line x1="955.5" x2="963.5" y1="132.1" y2="132.1" stroke="#333" stroke-width="3.1"/>
<text x="948.8" y="142.2" font-size="25.6" fill="#3C3C3C" text-anchor="end">15</text>
<g clip-path="url(#c3)">
<line x1="103.4" x2="467.9" y1="684.5" y2="684.5" stroke="#000" stroke-width="3.1"/>
<g fill="#8A00EA" fill-opacity="0.3">
<circle cx="120.0" cy="477.0" r="5.6"/>
<circle cx="126.3" cy="500.5" r="5.6"/>
<circle cx="132.7" cy="458.8" r="5.6"/>
<circle cx="139.1" cy="485.2" r="5.6"/>
<circle cx="145.5" cy="542.2" r="5.6"/>
<circle cx="151.8" cy="465.0" r="5.6"/>
<circle cx="158.2" cy="516.9" r="5.6"/>
<circle cx="164.6" cy="636.9" r="5.6"/>
<circle cx="170.9" cy="629.1" r="5.6"/>
<circle cx="177.3" cy="618.7" r="5.6"/>
<circle cx="183.7" cy="626.7" r="5.6"/>
<circle cx="190.1" cy="622.0" r="5.6"/>
<circle cx="196.4" cy="634.2" r="5.6"/>
<circle cx="202.8" cy="650.7" r="5.6"/>
<circle cx="209.2" cy="646.3" r="5.6"/>
<circle cx="215.6" cy="633.5" r="5.6"/>
<circle cx="221.9" cy="645.5" r="5.6"/>
<circle cx="228.3" cy="658.0" r="5.6"/>
<circle cx="234.7" cy="658.3" r="5.6"/>
<circle cx="241.0" cy="648.7" r="5.6"/>
<circle cx="247.4" cy="653.4" r="5.6"/>
<circle cx="253.8" cy="628.1" r="5.6"/>
<circle cx="260.2" cy="624.4" r="5.6"/>
<circle cx="266.5" cy="669.7" r="5.6"/>
<circle cx="272.9" cy="673.3" r="5.6"/>
<circle cx="279.3" cy="671.2" r="5.6"/>
<circle cx="285.6" cy="669.0" r="5.6"/>
<circle cx="292.0" cy="672.9" r="5.6"/>
<circle cx="298.4" cy="668.2" r="5.6"/>
<circle cx="304.8" cy="675.6" r="5.6"/>
<circle cx="311.1" cy="678.8" r="5.6"/>
<circle cx="317.5" cy="676.4" r="5.6"/>
<circle cx="323.9" cy="674.9" r="5.6"/>
<circle cx="330.3" cy="675.6" r="5.6"/>
<circle cx="336.6" cy="675.6" r="5.6"/>
<circle cx="343.0" cy="672.5" r="5.6"/>
<circle cx="349.4" cy="677.8" r="5.6"/>
<circle cx="355.7" cy="678.8" r="5.6"/>
<circle cx="362.1" cy="679.4" r="5.6"/>
<circle cx="368.5" cy="680.3" r="5.6"/>
<circle cx="374.9" cy="680.3" r="5.6"/>
<circle cx="381.2" cy="679.4" r="5.6"/>
<circle cx="387.6" cy="680.8" r="5.6"/>
<circle cx="394.0" cy="680.3" r="5.6"/>
<circle cx="400.4" cy="681.1" r="5.6"/>
<circle cx="406.7" cy="680.8" r="5.6"/>
<circle cx="413.1" cy="680.3" r="5.6"/>
<circle cx="419.5" cy="681.1" r="5.6"/>
<circle cx="425.8" cy="651.6" r="5.6"/>
<circle cx="432.2" cy="679.4" r="5.6"/>
<circle cx="438.6" cy="680.3" r="5.6"/>
<circle cx="451.3" cy="677.8" r="5.6"/>
</g>
<g fill="#FF9008" fill-opacity="0.3">
<circle cx="120.0" cy="640.7" r="5.6"/>
<circle cx="126.3" cy="609.2" r="5.6"/>
<circle cx="132.7" cy="604.8" r="5.6"/>
<circle cx="139.1" cy="618.8" r="5.6"/>
<circle cx="145.5" cy="633.2" r="5.6"/>
<circle cx="151.8" cy="610.1" r="5.6"/>
<circle cx="158.2" cy="629.4" r="5.6"/>
<circle cx="164.6" cy="661.1" r="5.6"/>
<circle cx="170.9" cy="612.6" r="5.6"/>
<circle cx="177.3" cy="632.5" r="5.6"/>
<circle cx="183.7" cy="612.3" r="5.6"/>
<circle cx="190.1" cy="622.0" r="5.6"/>
<circle cx="196.4" cy="653.4" r="5.6"/>
<circle cx="202.8" cy="632.1" r="5.6"/>
<circle cx="209.2" cy="647.0" r="5.6"/>
<circle cx="215.6" cy="654.9" r="5.6"/>
<circle cx="221.9" cy="650.0" r="5.6"/>
<circle cx="228.3" cy="639.2" r="5.6"/>
<circle cx="234.7" cy="647.8" r="5.6"/>
<circle cx="241.0" cy="638.4" r="5.6"/>
<circle cx="247.4" cy="657.9" r="5.6"/>
<circle cx="253.8" cy="628.3" r="5.6"/>
<circle cx="260.2" cy="634.5" r="5.6"/>
<circle cx="266.5" cy="640.7" r="5.6"/>
<circle cx="272.9" cy="650.7" r="5.6"/>
<circle cx="279.3" cy="664.2" r="5.6"/>
<circle cx="285.6" cy="671.4" r="5.6"/>
<circle cx="292.0" cy="651.5" r="5.6"/>
<circle cx="298.4" cy="657.5" r="5.6"/>
<circle cx="304.8" cy="662.4" r="5.6"/>
<circle cx="311.1" cy="668.7" r="5.6"/>
<circle cx="317.5" cy="667.6" r="5.6"/>
<circle cx="323.9" cy="665.5" r="5.6"/>
<circle cx="330.3" cy="667.6" r="5.6"/>
<circle cx="336.6" cy="657.7" r="5.6"/>
<circle cx="343.0" cy="670.2" r="5.6"/>
<circle cx="349.4" cy="672.7" r="5.6"/>
<circle cx="355.7" cy="674.4" r="5.6"/>
<circle cx="362.1" cy="675.2" r="5.6"/>
<circle cx="368.5" cy="676.1" r="5.6"/>
<circle cx="374.9" cy="677.8" r="5.6"/>
<circle cx="381.2" cy="678.6" r="5.6"/>
<circle cx="387.6" cy="678.6" r="5.6"/>
<circle cx="394.0" cy="679.4" r="5.6"/>
<circle cx="400.4" cy="679.4" r="5.6"/>
<circle cx="406.7" cy="678.6" r="5.6"/>
<circle cx="413.1" cy="679.4" r="5.6"/>
<circle cx="419.5" cy="676.4" r="5.6"/>
<circle cx="425.8" cy="679.4" r="5.6"/>
<circle cx="432.2" cy="671.7" r="5.6"/>
<circle cx="438.6" cy="677.3" r="5.6"/>
<circle cx="445.0" cy="628.1" r="5.6"/>
<circle cx="451.3" cy="682.8" r="5.6"/>
</g>
<polygon points="120.0,537.5 124.2,540.0 128.4,542.4 132.6,544.9 136.7,547.3 140.9,549.8 145.1,552.2 149.3,554.6 153.5,557.1 157.7,559.5 161.9,561.9 166.1,564.3 170.3,566.8 174.5,569.2 178.7,571.6 182.9,574.0 187.1,576.3 191.3,578.7 195.5,581.1 199.7,583.5 203.9,585.8 208.1,588.1 212.2,590.5 216.4,592.8 220.6,595.1 224.8,597.4 229.0,599.7 233.2,602.0 237.4,604.2 241.6,606.4 245.8,608.7 250.0,610.9 254.2,613.1 258.4,615.2 262.6,617.4 266.8,619.5 271.0,621.6 275.2,623.7 279.4,625.7 283.6,627.8 287.7,629.8 291.9,631.8 296.1,633.8 300.3,635.7 304.5,637.6 308.7,639.5 312.9,641.4 317.1,643.3 321.3,645.1 325.5,647.0 329.7,648.8 333.9,650.6 338.1,652.4 342.3,654.1 346.5,655.9 350.7,657.6 354.9,659.3 359.1,661.1 363.2,662.8 367.4,664.4 371.6,666.1 375.8,667.8 380.0,669.5 384.2,671.1 388.4,672.8 392.6,674.4 396.8,676.0 401.0,677.7 405.2,679.3 409.4,680.9 413.6,682.5 417.8,684.1 422.0,685.7 426.2,687.3 430.4,688.9 434.6,690.5 438.7,692.1 442.9,693.6 447.1,695.2 451.3,696.8 451.3,744.0 447.1,741.5 442.9,739.1 438.7,736.6 434.6,734.2 430.4,731.7 426.2,729.3 422.0,726.9 417.8,724.4 413.6,722.0 409.4,719.6 405.2,717.2 401.0,714.7 396.8,712.3 392.6,709.9 388.4,707.5 384.2,705.2 380.0,702.8 375.8,700.4 371.6,698.0 367.4,695.7 363.2,693.4 359.1,691.0 354.9,688.7 350.7,686.4 346.5,684.1 342.3,681.8 338.1,679.5 333.9,677.3 329.7,675.1 325.5,672.8 321.3,670.6 317.1,668.4 312.9,666.3 308.7,664.1 304.5,662.0 300.3,659.9 296.1,657.8 291.9,655.8 287.7,653.7 283.6,651.7 279.4,649.7 275.2,647.7 271.0,645.8 266.8,643.9 262.6,642.0 258.4,640.1 254.2,638.2 250.0,636.4 245.8,634.5 241.6,632.7 237.4,630.9 233.2,629.1 229.0,627.4 224.8,625.6 220.6,623.9 216.4,622.2 212.2,620.4 208.1,618.7 203.9,617.1 199.7,615.4 195.5,613.7 191.3,612.0 187.1,610.4 182.9,608.7 178.7,607.1 174.5,605.5 170.3,603.8 166.1,602.2 161.9,600.6 157.7,599.0 153.5,597.4 149.3,595.8 145.1,594.2 140.9,592.6 136.7,591.0 132.6,589.4 128.4,587.9 124.2,586.3 120.0,584.7" fill="#8A00EA" fill-opacity="0.15"/>
<polygon points="120.0,616.0 124.2,616.9 128.4,617.8 132.6,618.7 136.7,619.6 140.9,620.5 145.1,621.4 149.3,622.3 153.5,623.2 157.7,624.0 161.9,624.9 166.1,625.8 170.3,626.7 174.5,627.6 178.7,628.5 182.9,629.3 187.1,630.2 191.3,631.1 195.5,632.0 199.7,632.8 203.9,633.7 208.1,634.6 212.2,635.4 216.4,636.3 220.6,637.1 224.8,638.0 229.0,638.8 233.2,639.7 237.4,640.5 241.6,641.4 245.8,642.2 250.0,643.0 254.2,643.8 258.4,644.6 262.6,645.4 266.8,646.2 271.0,647.0 275.2,647.8 279.4,648.6 283.6,649.4 287.7,650.2 291.9,650.9 296.1,651.7 300.3,652.4 304.5,653.2 308.7,653.9 312.9,654.7 317.1,655.4 321.3,656.1 325.5,656.8 329.7,657.5 333.9,658.2 338.1,658.9 342.3,659.6 346.5,660.3 350.7,661.0 354.9,661.7 359.1,662.4 363.2,663.1 367.4,663.7 371.6,664.4 375.8,665.1 380.0,665.8 384.2,666.4 388.4,667.1 392.6,667.7 396.8,668.4 401.0,669.1 405.2,669.7 409.4,670.4 413.6,671.0 417.8,671.7 422.0,672.3 426.2,673.0 430.4,673.6 434.6,674.3 438.7,674.9 442.9,675.6 447.1,676.2 451.3,676.9 451.3,690.4 447.1,689.6 442.9,688.7 438.7,687.8 434.6,686.9 430.4,686.0 426.2,685.1 422.0,684.2 417.8,683.3 413.6,682.4 409.4,681.5 405.2,680.6 401.0,679.7 396.8,678.9 392.6,678.0 388.4,677.1 384.2,676.2 380.0,675.4 375.8,674.5 371.6,673.6 367.4,672.7 363.2,671.9 359.1,671.0 354.9,670.2 350.7,669.3 346.5,668.5 342.3,667.6 338.1,666.8 333.9,665.9 329.7,665.1 325.5,664.3 321.3,663.4 317.1,662.6 312.9,661.8 308.7,661.0 304.5,660.2 300.3,659.4 296.1,658.6 291.9,657.8 287.7,657.1 283.6,656.3 279.4,655.5 275.2,654.8 271.0,654.0 266.8,653.3 262.6,652.5 258.4,651.8 254.2,651.1 250.0,650.3 245.8,649.6 241.6,648.9 237.4,648.2 233.2,647.5 229.0,646.8 224.8,646.1 220.6,645.4 216.4,644.7 212.2,644.1 208.1,643.4 203.9,642.7 199.7,642.0 195.5,641.4 191.3,640.7 187.1,640.0 182.9,639.4 178.7,638.7 174.5,638.0 170.3,637.4 166.1,636.7 161.9,636.1 157.7,635.4 153.5,634.8 149.3,634.1 145.1,633.5 140.9,632.8 136.7,632.2 132.6,631.5 128.4,630.9 124.2,630.2 120.0,629.6" fill="#FF9008" fill-opacity="0.15"/>
<line x1="120.0" y1="561.1" x2="451.3" y2="720.4" stroke="#8A00EA" stroke-width="4.27"/>
<line x1="120.0" y1="622.8" x2="451.3" y2="683.65" stroke="#FF9008" stroke-width="4.27"/>
<rect x="103.4" y="444.6" width="364.5" height="314.00" fill="none" stroke="#3a3a3a" stroke-width="3.3"/>
</g>
<text x="285.6" y="428.5" font-size="25.6" fill="#1A1A1A" text-anchor="middle">Gadoids</text>
<line x1="95.4" x2="103.4" y1="684.5" y2="684.5" stroke="#333" stroke-width="3.1"/>
<text x="88.7" y="694.6" font-size="25.6" fill="#3C3C3C" text-anchor="end">0.0</text>
<line x1="95.4" x2="103.4" y1="600.2" y2="600.2" stroke="#333" stroke-width="3.1"/>
<text x="88.7" y="610.4" font-size="25.6" fill="#3C3C3C" text-anchor="end">0.5</text>
<line x1="95.4" x2="103.4" y1="516.0" y2="516.0" stroke="#333" stroke-width="3.1"/>
<text x="88.7" y="526.1" font-size="25.6" fill="#3C3C3C" text-anchor="end">1.0</text>
<line x1="120.0" x2="120.0" y1="758.6" y2="766.6" stroke="#333" stroke-width="3.1"/>
<text x="120.0" y="791.7" font-size="25.6" fill="#3C3C3C" text-anchor="middle">1970</text>
<line x1="247.4" x2="247.4" y1="758.6" y2="766.6" stroke="#333" stroke-width="3.1"/>
<text x="247.4" y="791.7" font-size="25.6" fill="#3C3C3C" text-anchor="middle">1990</text>
<line x1="374.9" x2="374.9" y1="758.6" y2="766.6" stroke="#333" stroke-width="3.1"/>
<text x="374.9" y="791.7" font-size="25.6" fill="#3C3C3C" text-anchor="middle">2010</text>
<g clip-path="url(#c4)">
<line x1="533.4" x2="897.9" y1="695.15" y2="695.15" stroke="#000" stroke-width="3.1"/>
<g fill="#8A00EA" fill-opacity="0.3">
<circle cx="550.0" cy="497.5" r="5.6"/>
<circle cx="556.3" cy="479.5" r="5.6"/>
<circle cx="562.7" cy="487.7" r="5.6"/>
<circle cx="569.1" cy="458.9" r="5.6"/>
<circle cx="575.5" cy="569.3" r="5.6"/>
<circle cx="581.8" cy="545.5" r="5.6"/>
<circle cx="588.2" cy="566.0" r="5.6"/>
<circle cx="594.6" cy="647.8" r="5.6"/>
<circle cx="600.9" cy="623.6" r="5.6"/>
<circle cx="607.3" cy="612.8" r="5.6"/>
<circle cx="613.7" cy="615.8" r="5.6"/>
<circle cx="620.1" cy="609.8" r="5.6"/>
<circle cx="626.4" cy="615.4" r="5.6"/>
<circle cx="632.8" cy="634.7" r="5.6"/>
<circle cx="639.2" cy="627.7" r="5.6"/>
<circle cx="645.6" cy="617.6" r="5.6"/>
<circle cx="651.9" cy="628.4" r="5.6"/>
<circle cx="658.3" cy="645.5" r="5.6"/>
<circle cx="664.7" cy="649.4" r="5.6"/>
<circle cx="671.0" cy="638.5" r="5.6"/>
<circle cx="677.4" cy="647.8" r="5.6"/>
<circle cx="683.8" cy="621.4" r="5.6"/>
<circle cx="690.2" cy="622.8" r="5.6"/>
<circle cx="696.5" cy="671.9" r="5.6"/>
<circle cx="702.9" cy="674.5" r="5.6"/>
<circle cx="709.3" cy="675.3" r="5.6"/>
<circle cx="715.7" cy="669.8" r="5.6"/>
<circle cx="722.0" cy="680.3" r="5.6"/>
<circle cx="728.4" cy="674.7" r="5.6"/>
<circle cx="734.8" cy="682.5" r="5.6"/>
<circle cx="741.1" cy="685.5" r="5.6"/>
<circle cx="747.5" cy="682.1" r="5.6"/>
<circle cx="753.9" cy="679.1" r="5.6"/>
<circle cx="760.3" cy="684.0" r="5.6"/>
<circle cx="766.6" cy="684.0" r="5.6"/>
<circle cx="773.0" cy="683.2" r="5.6"/>
<circle cx="779.4" cy="686.2" r="5.6"/>
<circle cx="785.7" cy="685.1" r="5.6"/>
<circle cx="792.1" cy="686.2" r="5.6"/>
<circle cx="798.5" cy="690.7" r="5.6"/>
<circle cx="804.9" cy="688.1" r="5.6"/>
<circle cx="811.2" cy="687.3" r="5.6"/>
<circle cx="817.6" cy="686.2" r="5.6"/>
<circle cx="824.0" cy="688.1" r="5.6"/>
<circle cx="830.4" cy="687.3" r="5.6"/>
<circle cx="836.7" cy="686.2" r="5.6"/>
<circle cx="843.1" cy="688.1" r="5.6"/>
<circle cx="849.5" cy="686.2" r="5.6"/>
<circle cx="855.8" cy="616.3" r="5.6"/>
<circle cx="862.2" cy="687.3" r="5.6"/>
<circle cx="868.6" cy="687.3" r="5.6"/>
<circle cx="881.3" cy="675.8" r="5.6"/>
</g>
<g fill="#FF9008" fill-opacity="0.3">
<circle cx="550.0" cy="622.1" r="5.6"/>
<circle cx="556.3" cy="615.4" r="5.6"/>
<circle cx="562.7" cy="566.0" r="5.6"/>
<circle cx="569.1" cy="579.0" r="5.6"/>
<circle cx="575.5" cy="607.2" r="5.6"/>
<circle cx="581.8" cy="568.9" r="5.6"/>
<circle cx="588.2" cy="589.2" r="5.6"/>
<circle cx="594.6" cy="652.6" r="5.6"/>
<circle cx="600.9" cy="562.2" r="5.6"/>
<circle cx="607.3" cy="599.4" r="5.6"/>
<circle cx="613.7" cy="590.1" r="5.6"/>
<circle cx="620.1" cy="582.3" r="5.6"/>
<circle cx="626.4" cy="637.7" r="5.6"/>
<circle cx="632.8" cy="615.0" r="5.6"/>
<circle cx="639.2" cy="631.4" r="5.6"/>
<circle cx="645.6" cy="642.4" r="5.6"/>
<circle cx="651.9" cy="643.1" r="5.6"/>
<circle cx="658.3" cy="646.3" r="5.6"/>
<circle cx="664.7" cy="650.2" r="5.6"/>
<circle cx="671.0" cy="625.1" r="5.6"/>
<circle cx="677.4" cy="641.5" r="5.6"/>
<circle cx="683.8" cy="620.6" r="5.6"/>
<circle cx="690.2" cy="631.4" r="5.6"/>
<circle cx="696.5" cy="642.5" r="5.6"/>
<circle cx="702.9" cy="660.4" r="5.6"/>
<circle cx="709.3" cy="664.9" r="5.6"/>
<circle cx="715.7" cy="679.1" r="5.6"/>
<circle cx="722.0" cy="667.2" r="5.6"/>
<circle cx="728.4" cy="644.9" r="5.6"/>
<circle cx="734.8" cy="671.3" r="5.6"/>
<circle cx="741.1" cy="673.6" r="5.6"/>
<circle cx="747.5" cy="671.3" r="5.6"/>
<circle cx="753.9" cy="679.1" r="5.6"/>
<circle cx="760.3" cy="657.9" r="5.6"/>
<circle cx="766.6" cy="672.4" r="5.6"/>
<circle cx="773.0" cy="678.0" r="5.6"/>
<circle cx="779.4" cy="675.1" r="5.6"/>
<circle cx="785.7" cy="676.9" r="5.6"/>
<circle cx="792.1" cy="675.8" r="5.6"/>
<circle cx="798.5" cy="678.0" r="5.6"/>
<circle cx="804.9" cy="678.8" r="5.6"/>
<circle cx="811.2" cy="680.6" r="5.6"/>
<circle cx="817.6" cy="681.4" r="5.6"/>
<circle cx="824.0" cy="682.5" r="5.6"/>
<circle cx="830.4" cy="684.3" r="5.6"/>
<circle cx="836.7" cy="684.3" r="5.6"/>
<circle cx="843.1" cy="687.3" r="5.6"/>
<circle cx="849.5" cy="682.5" r="5.6"/>
<circle cx="855.8" cy="686.2" r="5.6"/>
<circle cx="862.2" cy="678.0" r="5.6"/>
<circle cx="868.6" cy="682.5" r="5.6"/>
<circle cx="875.0" cy="566.9" r="5.6"/>
<circle cx="881.3" cy="690.7" r="5.6"/>
</g>
<polygon points="550.0,544.5 554.2,546.9 558.4,549.3 562.6,551.7 566.7,554.0 570.9,556.4 575.1,558.8 579.3,561.2 583.5,563.5 587.7,565.9 591.9,568.3 596.1,570.6 600.3,573.0 604.5,575.3 608.7,577.6 612.9,580.0 617.1,582.3 621.3,584.6 625.5,586.9 629.7,589.2 633.9,591.5 638.1,593.8 642.2,596.1 646.4,598.4 650.6,600.6 654.8,602.9 659.0,605.1 663.2,607.3 667.4,609.5 671.6,611.7 675.8,613.9 680.0,616.1 684.2,618.2 688.4,620.4 692.6,622.5 696.8,624.6 701.0,626.7 705.2,628.7 709.4,630.8 713.6,632.8 717.7,634.8 721.9,636.8 726.1,638.8 730.3,640.7 734.5,642.6 738.7,644.5 742.9,646.4 747.1,648.3 751.3,650.2 755.5,652.0 759.7,653.8 763.9,655.7 768.1,657.5 772.3,659.2 776.5,661.0 780.7,662.8 784.9,664.5 789.1,666.3 793.2,668.0 797.4,669.7 801.6,671.4 805.8,673.1 810.0,674.8 814.2,676.5 818.4,678.2 822.6,679.9 826.8,681.6 831.0,683.2 835.2,684.9 839.4,686.6 843.6,688.2 847.8,689.8 852.0,691.5 856.2,693.1 860.4,694.8 864.6,696.4 868.7,698.0 872.9,699.7 877.1,701.3 881.3,702.9 881.3,743.9 877.1,741.5 872.9,739.1 868.7,736.7 864.6,734.4 860.4,732.0 856.2,729.6 852.0,727.2 847.8,724.9 843.6,722.5 839.4,720.1 835.2,717.8 831.0,715.4 826.8,713.1 822.6,710.8 818.4,708.4 814.2,706.1 810.0,703.8 805.8,701.5 801.6,699.2 797.4,696.9 793.2,694.6 789.1,692.3 784.9,690.0 780.7,687.8 776.5,685.5 772.3,683.3 768.1,681.1 763.9,678.9 759.7,676.7 755.5,674.5 751.3,672.3 747.1,670.2 742.9,668.0 738.7,665.9 734.5,663.8 730.3,661.7 726.1,659.7 721.9,657.6 717.7,655.6 713.6,653.6 709.4,651.6 705.2,649.6 701.0,647.7 696.8,645.8 692.6,643.9 688.4,642.0 684.2,640.1 680.0,638.2 675.8,636.4 671.6,634.6 667.4,632.7 663.2,630.9 659.0,629.2 654.8,627.4 650.6,625.6 646.4,623.9 642.2,622.1 638.1,620.4 633.9,618.7 629.7,617.0 625.5,615.3 621.3,613.6 617.1,611.9 612.9,610.2 608.7,608.5 604.5,606.8 600.3,605.2 596.1,603.5 591.9,601.8 587.7,600.2 583.5,598.6 579.3,596.9 575.1,595.3 570.9,593.6 566.7,592.0 562.6,590.4 558.4,588.7 554.2,587.1 550.0,585.5" fill="#8A00EA" fill-opacity="0.15"/>
<polygon points="550.0,585.6 554.2,587.1 558.4,588.5 562.6,590.0 566.7,591.5 570.9,593.0 575.1,594.4 579.3,595.9 583.5,597.3 587.7,598.8 591.9,600.3 596.1,601.7 600.3,603.2 604.5,604.6 608.7,606.1 612.9,607.5 617.1,608.9 621.3,610.4 625.5,611.8 629.7,613.2 633.9,614.6 638.1,616.0 642.2,617.4 646.4,618.8 650.6,620.2 654.8,621.6 659.0,623.0 663.2,624.4 667.4,625.7 671.6,627.1 675.8,628.4 680.0,629.8 684.2,631.1 688.4,632.4 692.6,633.7 696.8,635.0 701.0,636.3 705.2,637.5 709.4,638.8 713.6,640.0 717.7,641.3 721.9,642.5 726.1,643.7 730.3,644.9 734.5,646.1 738.7,647.2 742.9,648.4 747.1,649.6 751.3,650.7 755.5,651.8 759.7,652.9 763.9,654.1 768.1,655.2 772.3,656.3 776.5,657.3 780.7,658.4 784.9,659.5 789.1,660.6 793.2,661.6 797.4,662.7 801.6,663.7 805.8,664.7 810.0,665.8 814.2,666.8 818.4,667.8 822.6,668.9 826.8,669.9 831.0,670.9 835.2,671.9 839.4,672.9 843.6,673.9 847.8,674.9 852.0,675.9 856.2,676.9 860.4,677.9 864.6,678.9 868.7,679.9 872.9,680.9 877.1,681.9 881.3,682.9 881.3,708.9 877.1,707.4 872.9,706.0 868.7,704.5 864.6,703.0 860.4,701.5 856.2,700.1 852.0,698.6 847.8,697.2 843.6,695.7 839.4,694.2 835.2,692.8 831.0,691.3 826.8,689.9 822.6,688.4 818.4,687.0 814.2,685.6 810.0,684.1 805.8,682.7 801.6,681.3 797.4,679.9 793.2,678.5 789.1,677.1 784.9,675.7 780.7,674.3 776.5,672.9 772.3,671.5 768.1,670.1 763.9,668.8 759.7,667.4 755.5,666.1 751.3,664.7 747.1,663.4 742.9,662.1 738.7,660.8 734.5,659.5 730.3,658.2 726.1,657.0 721.9,655.7 717.7,654.5 713.6,653.2 709.4,652.0 705.2,650.8 701.0,649.6 696.8,648.4 692.6,647.3 688.4,646.1 684.2,644.9 680.0,643.8 675.8,642.7 671.6,641.6 667.4,640.4 663.2,639.3 659.0,638.2 654.8,637.2 650.6,636.1 646.4,635.0 642.2,633.9 638.1,632.9 633.9,631.8 629.7,630.8 625.5,629.8 621.3,628.7 617.1,627.7 612.9,626.7 608.7,625.6 604.5,624.6 600.3,623.6 596.1,622.6 591.9,621.6 587.7,620.6 583.5,619.6 579.3,618.6 575.1,617.6 570.9,616.6 566.7,615.6 562.6,614.6 558.4,613.6 554.2,612.6 550.0,611.6" fill="#FF9008" fill-opacity="0.15"/>
<line x1="550.0" y1="565.0" x2="881.3" y2="723.4" stroke="#8A00EA" stroke-width="4.27"/>
<line x1="550.0" y1="598.6" x2="881.3" y2="695.9" stroke="#FF9008" stroke-width="4.27"/>
<rect x="533.4" y="444.6" width="364.5" height="314.00" fill="none" stroke="#3a3a3a" stroke-width="3.3"/>
</g>
<text x="715.6" y="428.5" font-size="25.6" fill="#1A1A1A" text-anchor="middle">Groundfish</text>
<line x1="525.4" x2="533.4" y1="695.1" y2="695.1" stroke="#333" stroke-width="3.1"/>
<text x="518.7" y="705.2" font-size="25.6" fill="#3C3C3C" text-anchor="end">0.0</text>
<line x1="525.4" x2="533.4" y1="620.8" y2="620.8" stroke="#333" stroke-width="3.1"/>
<text x="518.7" y="630.9" font-size="25.6" fill="#3C3C3C" text-anchor="end">0.2</text>
<line x1="525.4" x2="533.4" y1="546.4" y2="546.4" stroke="#333" stroke-width="3.1"/>
<text x="518.7" y="556.5" font-size="25.6" fill="#3C3C3C" text-anchor="end">0.4</text>
<line x1="525.4" x2="533.4" y1="472.1" y2="472.1" stroke="#333" stroke-width="3.1"/>
<text x="518.7" y="482.2" font-size="25.6" fill="#3C3C3C" text-anchor="end">0.6</text>
<line x1="550.0" x2="550.0" y1="758.6" y2="766.6" stroke="#333" stroke-width="3.1"/>
<text x="550.0" y="791.7" font-size="25.6" fill="#3C3C3C" text-anchor="middle">1970</text>
<line x1="677.4" x2="677.4" y1="758.6" y2="766.6" stroke="#333" stroke-width="3.1"/>
<text x="677.4" y="791.7" font-size="25.6" fill="#3C3C3C" text-anchor="middle">1990</text>
<line x1="804.9" x2="804.9" y1="758.6" y2="766.6" stroke="#333" stroke-width="3.1"/>
<text x="804.9" y="791.7" font-size="25.6" fill="#3C3C3C" text-anchor="middle">2010</text>
<g clip-path="url(#c5)">
<line x1="963.5" x2="1328.0" y1="709.95" y2="709.95" stroke="#000" stroke-width="3.1"/>
<g fill="#8A00EA" fill-opacity="0.3">
<circle cx="980.1" cy="674.7" r="5.6"/>
<circle cx="986.4" cy="458.1" r="5.6"/>
<circle cx="992.8" cy="647.2" r="5.6"/>
<circle cx="999.2" cy="659.7" r="5.6"/>
<circle cx="1005.6" cy="630.3" r="5.6"/>
<circle cx="1011.9" cy="600.8" r="5.6"/>
<circle cx="1018.3" cy="596.6" r="5.6"/>
<circle cx="1024.7" cy="696.2" r="5.6"/>
<circle cx="1031.0" cy="701.9" r="5.6"/>
<circle cx="1037.4" cy="702.8" r="5.6"/>
<circle cx="1043.8" cy="697.7" r="5.6"/>
<circle cx="1050.2" cy="704.0" r="5.6"/>
<circle cx="1056.5" cy="710.0" r="5.6"/>
<circle cx="1062.9" cy="705.8" r="5.6"/>
<circle cx="1069.3" cy="705.2" r="5.6"/>
<circle cx="1075.7" cy="701.0" r="5.6"/>
<circle cx="1082.0" cy="710.0" r="5.6"/>
<circle cx="1088.4" cy="710.0" r="5.6"/>
<circle cx="1094.8" cy="710.0" r="5.6"/>
<circle cx="1101.1" cy="710.0" r="5.6"/>
<circle cx="1107.5" cy="710.0" r="5.6"/>
<circle cx="1113.9" cy="678.2" r="5.6"/>
<circle cx="1120.3" cy="699.8" r="5.6"/>
<circle cx="1126.6" cy="702.8" r="5.6"/>
<circle cx="1133.0" cy="572.0" r="5.6"/>
<circle cx="1139.4" cy="650.8" r="5.6"/>
<circle cx="1145.8" cy="615.7" r="5.6"/>
<circle cx="1152.1" cy="662.7" r="5.6"/>
<circle cx="1158.5" cy="679.0" r="5.6"/>
<circle cx="1164.9" cy="682.7" r="5.6"/>
<circle cx="1171.2" cy="683.2" r="5.6"/>
<circle cx="1177.6" cy="681.7" r="5.6"/>
<circle cx="1184.0" cy="672.7" r="5.6"/>
<circle cx="1190.4" cy="709.3" r="5.6"/>
<circle cx="1196.7" cy="702.1" r="5.6"/>
<circle cx="1203.1" cy="710.5" r="5.6"/>
<circle cx="1209.5" cy="711.7" r="5.6"/>
<circle cx="1215.8" cy="711.7" r="5.6"/>
<circle cx="1222.2" cy="711.7" r="5.6"/>
<circle cx="1228.6" cy="711.7" r="5.6"/>
<circle cx="1235.0" cy="711.7" r="5.6"/>
<circle cx="1241.3" cy="711.7" r="5.6"/>
<circle cx="1247.7" cy="710.5" r="5.6"/>
<circle cx="1254.1" cy="710.5" r="5.6"/>
<circle cx="1260.5" cy="710.5" r="5.6"/>
<circle cx="1266.8" cy="705.7" r="5.6"/>
<circle cx="1273.2" cy="709.3" r="5.6"/>
<circle cx="1279.6" cy="709.3" r="5.6"/>
<circle cx="1285.9" cy="709.3" r="5.6"/>
<circle cx="1292.3" cy="710.5" r="5.6"/>
<circle cx="1298.7" cy="710.5" r="5.6"/>
<circle cx="1311.4" cy="708.1" r="5.6"/>
</g>
<g fill="#FF9008" fill-opacity="0.3">
<circle cx="980.1" cy="710.0" r="5.6"/>
<circle cx="986.4" cy="699.3" r="5.6"/>
<circle cx="992.8" cy="710.0" r="5.6"/>
<circle cx="999.2" cy="686.6" r="5.6"/>
<circle cx="1005.6" cy="687.8" r="5.6"/>
<circle cx="1011.9" cy="674.0" r="5.6"/>
<circle cx="1018.3" cy="695.1" r="5.6"/>
<circle cx="1024.7" cy="705.8" r="5.6"/>
<circle cx="1031.0" cy="710.0" r="5.6"/>
<circle cx="1037.4" cy="710.0" r="5.6"/>
<circle cx="1043.8" cy="708.2" r="5.6"/>
<circle cx="1050.2" cy="711.8" r="5.6"/>
<circle cx="1056.5" cy="711.8" r="5.6"/>
<circle cx="1062.9" cy="710.0" r="5.6"/>
<circle cx="1069.3" cy="710.0" r="5.6"/>
<circle cx="1075.7" cy="711.8" r="5.6"/>
<circle cx="1082.0" cy="710.0" r="5.6"/>
<circle cx="1088.4" cy="710.0" r="5.6"/>
<circle cx="1094.8" cy="711.8" r="5.6"/>
<circle cx="1101.1" cy="711.8" r="5.6"/>
<circle cx="1107.5" cy="710.0" r="5.6"/>
<circle cx="1113.9" cy="707.0" r="5.6"/>
<circle cx="1120.3" cy="710.0" r="5.6"/>
<circle cx="1126.6" cy="705.2" r="5.6"/>
<circle cx="1133.0" cy="701.6" r="5.6"/>
<circle cx="1139.4" cy="698.6" r="5.6"/>
<circle cx="1145.8" cy="703.3" r="5.6"/>
<circle cx="1152.1" cy="705.7" r="5.6"/>
<circle cx="1158.5" cy="706.9" r="5.6"/>
<circle cx="1164.9" cy="708.1" r="5.6"/>
<circle cx="1171.2" cy="709.3" r="5.6"/>
<circle cx="1177.6" cy="709.3" r="5.6"/>
<circle cx="1184.0" cy="708.7" r="5.6"/>
<circle cx="1190.4" cy="708.7" r="5.6"/>
<circle cx="1196.7" cy="708.7" r="5.6"/>
<circle cx="1203.1" cy="709.3" r="5.6"/>
<circle cx="1209.5" cy="709.3" r="5.6"/>
<circle cx="1215.8" cy="708.7" r="5.6"/>
<circle cx="1222.2" cy="708.7" r="5.6"/>
<circle cx="1228.6" cy="708.7" r="5.6"/>
<circle cx="1235.0" cy="708.1" r="5.6"/>
<circle cx="1241.3" cy="703.9" r="5.6"/>
<circle cx="1247.7" cy="703.9" r="5.6"/>
<circle cx="1254.1" cy="703.9" r="5.6"/>
<circle cx="1260.5" cy="707.5" r="5.6"/>
<circle cx="1266.8" cy="705.7" r="5.6"/>
<circle cx="1273.2" cy="706.9" r="5.6"/>
<circle cx="1279.6" cy="706.9" r="5.6"/>
<circle cx="1285.9" cy="707.5" r="5.6"/>
<circle cx="1292.3" cy="706.9" r="5.6"/>
<circle cx="1298.7" cy="706.9" r="5.6"/>
<circle cx="1305.1" cy="694.0" r="5.6"/>
<circle cx="1311.4" cy="708.1" r="5.6"/>
</g>
<polygon points="980.1,627.1 984.3,628.4 988.5,629.7 992.7,631.1 996.8,632.4 1001.0,633.7 1005.2,635.0 1009.4,636.3 1013.6,637.6 1017.8,638.9 1022.0,640.2 1026.2,641.5 1030.4,642.7 1034.6,644.0 1038.8,645.3 1043.0,646.5 1047.2,647.8 1051.4,649.0 1055.6,650.3 1059.8,651.5 1064.0,652.7 1068.2,653.9 1072.3,655.1 1076.5,656.3 1080.7,657.5 1084.9,658.6 1089.1,659.8 1093.3,660.9 1097.5,662.1 1101.7,663.2 1105.9,664.3 1110.1,665.3 1114.3,666.4 1118.5,667.4 1122.7,668.4 1126.9,669.4 1131.1,670.4 1135.3,671.4 1139.5,672.3 1143.7,673.2 1147.8,674.1 1152.0,675.0 1156.2,675.8 1160.4,676.7 1164.6,677.5 1168.8,678.2 1173.0,679.0 1177.2,679.8 1181.4,680.5 1185.6,681.2 1189.8,681.9 1194.0,682.6 1198.2,683.2 1202.4,683.9 1206.6,684.5 1210.8,685.1 1215.0,685.7 1219.2,686.3 1223.3,686.9 1227.5,687.5 1231.7,688.1 1235.9,688.6 1240.1,689.2 1244.3,689.7 1248.5,690.2 1252.7,690.8 1256.9,691.3 1261.1,691.8 1265.3,692.3 1269.5,692.8 1273.7,693.3 1277.9,693.8 1282.1,694.3 1286.3,694.7 1290.5,695.2 1294.7,695.7 1298.8,696.2 1303.0,696.6 1307.2,697.1 1311.4,697.5 1311.4,743.5 1307.2,742.2 1303.0,740.9 1298.8,739.6 1294.7,738.3 1290.5,737.0 1286.3,735.7 1282.1,734.4 1277.9,733.1 1273.7,731.8 1269.5,730.5 1265.3,729.2 1261.1,727.9 1256.9,726.6 1252.7,725.4 1248.5,724.1 1244.3,722.9 1240.1,721.6 1235.9,720.4 1231.7,719.2 1227.5,717.9 1223.3,716.7 1219.2,715.5 1215.0,714.3 1210.8,713.2 1206.6,712.0 1202.4,710.9 1198.2,709.7 1194.0,708.6 1189.8,707.5 1185.6,706.4 1181.4,705.3 1177.2,704.3 1173.0,703.2 1168.8,702.2 1164.6,701.2 1160.4,700.2 1156.2,699.3 1152.0,698.4 1147.8,697.4 1143.7,696.5 1139.5,695.7 1135.3,694.8 1131.1,694.0 1126.9,693.2 1122.7,692.4 1118.5,691.6 1114.3,690.9 1110.1,690.2 1105.9,689.5 1101.7,688.8 1097.5,688.1 1093.3,687.4 1089.1,686.8 1084.9,686.1 1080.7,685.5 1076.5,684.9 1072.3,684.3 1068.2,683.7 1064.0,683.2 1059.8,682.6 1055.6,682.0 1051.4,681.5 1047.2,681.0 1043.0,680.4 1038.8,679.9 1034.6,679.4 1030.4,678.9 1026.2,678.4 1022.0,677.9 1017.8,677.4 1013.6,676.9 1009.4,676.4 1005.2,675.9 1001.0,675.4 996.8,675.0 992.7,674.5 988.5,674.0 984.3,673.6 980.1,673.1" fill="#8A00EA" fill-opacity="0.15"/>
<polygon points="980.1,698.8 984.3,699.0 988.5,699.1 992.7,699.3 996.8,699.4 1001.0,699.6 1005.2,699.7 1009.4,699.9 1013.6,700.1 1017.8,700.2 1022.0,700.4 1026.2,700.5 1030.4,700.7 1034.6,700.8 1038.8,701.0 1043.0,701.1 1047.2,701.3 1051.4,701.4 1055.6,701.6 1059.8,701.7 1064.0,701.9 1068.2,702.0 1072.3,702.1 1076.5,702.3 1080.7,702.4 1084.9,702.5 1089.1,702.7 1093.3,702.8 1097.5,702.9 1101.7,703.1 1105.9,703.2 1110.1,703.3 1114.3,703.4 1118.5,703.5 1122.7,703.7 1126.9,703.8 1131.1,703.9 1135.3,704.0 1139.5,704.1 1143.7,704.2 1147.8,704.3 1152.0,704.4 1156.2,704.4 1160.4,704.5 1164.6,704.6 1168.8,704.7 1173.0,704.8 1177.2,704.8 1181.4,704.9 1185.6,705.0 1189.8,705.0 1194.0,705.1 1198.2,705.2 1202.4,705.2 1206.6,705.3 1210.8,705.3 1215.0,705.4 1219.2,705.4 1223.3,705.5 1227.5,705.5 1231.7,705.6 1235.9,705.6 1240.1,705.6 1244.3,705.7 1248.5,705.7 1252.7,705.8 1256.9,705.8 1261.1,705.8 1265.3,705.9 1269.5,705.9 1273.7,705.9 1277.9,706.0 1282.1,706.0 1286.3,706.0 1290.5,706.1 1294.7,706.1 1298.8,706.1 1303.0,706.1 1307.2,706.2 1311.4,706.2 1311.4,713.2 1307.2,713.0 1303.0,712.9 1298.8,712.7 1294.7,712.6 1290.5,712.4 1286.3,712.3 1282.1,712.1 1277.9,711.9 1273.7,711.8 1269.5,711.6 1265.3,711.5 1261.1,711.3 1256.9,711.2 1252.7,711.0 1248.5,710.9 1244.3,710.7 1240.1,710.6 1235.9,710.4 1231.7,710.3 1227.5,710.1 1223.3,710.0 1219.2,709.9 1215.0,709.7 1210.8,709.6 1206.6,709.5 1202.4,709.3 1198.2,709.2 1194.0,709.1 1189.8,708.9 1185.6,708.8 1181.4,708.7 1177.2,708.6 1173.0,708.5 1168.8,708.3 1164.6,708.2 1160.4,708.1 1156.2,708.0 1152.0,707.9 1147.8,707.8 1143.7,707.7 1139.5,707.6 1135.3,707.6 1131.1,707.5 1126.9,707.4 1122.7,707.3 1118.5,707.2 1114.3,707.2 1110.1,707.1 1105.9,707.0 1101.7,707.0 1097.5,706.9 1093.3,706.8 1089.1,706.8 1084.9,706.7 1080.7,706.7 1076.5,706.6 1072.3,706.6 1068.2,706.5 1064.0,706.5 1059.8,706.4 1055.6,706.4 1051.4,706.4 1047.2,706.3 1043.0,706.3 1038.8,706.2 1034.6,706.2 1030.4,706.2 1026.2,706.1 1022.0,706.1 1017.8,706.1 1013.6,706.0 1009.4,706.0 1005.2,706.0 1001.0,705.9 996.8,705.9 992.7,705.9 988.5,705.9 984.3,705.8 980.1,705.8" fill="#FF9008" fill-opacity="0.15"/>
<line x1="980.1" y1="650.1" x2="1311.4" y2="720.55" stroke="#8A00EA" stroke-width="4.27"/>
<line x1="980.1" y1="702.3" x2="1311.4" y2="709.7" stroke="#FF9008" stroke-width="4.27"/>
<rect x="963.5" y="444.6" width="364.5" height="314.00" fill="none" stroke="#3a3a3a" stroke-width="3.3"/>
</g>
<text x="1145.8" y="428.5" font-size="25.6" fill="#1A1A1A" text-anchor="middle">Skates</text>
<line x1="955.5" x2="963.5" y1="710.0" y2="710.0" stroke="#333" stroke-width="3.1"/>
<text x="948.8" y="720.1" font-size="25.6" fill="#3C3C3C" text-anchor="end">0.0</text>
<line x1="955.5" x2="963.5" y1="650.0" y2="650.0" stroke="#333" stroke-width="3.1"/>
<text x="948.8" y="660.1" font-size="25.6" fill="#3C3C3C" text-anchor="end">0.1</text>
<line x1="955.5" x2="963.5" y1="590.0" y2="590.0" stroke="#333" stroke-width="3.1"/>
<text x="948.8" y="600.1" font-size="25.6" fill="#3C3C3C" text-anchor="end">0.2</text>
<line x1="955.5" x2="963.5" y1="530.0" y2="530.0" stroke="#333" stroke-width="3.1"/>
<text x="948.8" y="540.1" font-size="25.6" fill="#3C3C3C" text-anchor="end">0.3</text>
<line x1="955.5" x2="963.5" y1="470.0" y2="470.0" stroke="#333" stroke-width="3.1"/>
<text x="948.8" y="480.1" font-size="25.6" fill="#3C3C3C" text-anchor="end">0.4</text>
<line x1="980.1" x2="980.1" y1="758.6" y2="766.6" stroke="#333" stroke-width="3.1"/>
<text x="980.1" y="791.7" font-size="25.6" fill="#3C3C3C" text-anchor="middle">1970</text>
<line x1="1107.5" x2="1107.5" y1="758.6" y2="766.6" stroke="#333" stroke-width="3.1"/>
<text x="1107.5" y="791.7" font-size="25.6" fill="#3C3C3C" text-anchor="middle">1990</text>
<line x1="1235.0" x2="1235.0" y1="758.6" y2="766.6" stroke="#333" stroke-width="3.1"/>
<text x="1235.0" y="791.7" font-size="25.6" fill="#3C3C3C" text-anchor="middle">2010</text>
<text x="715.9" y="827.7" font-size="32" fill="#000" text-anchor="middle">Year</text>
<text transform="translate(38.3,412.2) rotate(-90)" font-size="32" fill="#000" text-anchor="middle">Fishing Pressure (Biomass/Landings)</text>
<line x1="246.2" x2="283.7" y1="905.0" y2="905.0" stroke="#8A00EA" stroke-width="4.27"/><circle cx="264.9" cy="905.0" r="5.7" fill="#8A00EA"/>
<text x="303.5" y="914.6" font-size="25.6" fill="#000">ESS</text>
<line x1="375.6" x2="413.1" y1="905.0" y2="905.0" stroke="#FF9008" stroke-width="4.27"/><circle cx="394.1" cy="905.0" r="5.7" fill="#FF9008"/>
<text x="433.4" y="914.6" font-size="25.6" fill="#000">WSS</text>
<line x1="562.9" x2="623.4" y1="905.0" y2="905.0" stroke="#000" stroke-width="4.27"/>
<text x="646.6" y="914.6" font-size="25.6" fill="#000">Significant Trend</text>
<line x1="862.3" x2="922.8" y1="905.0" y2="905.0" stroke="#000" stroke-width="4.27" stroke-dasharray="29.89 12.81"/>
<text x="945.8" y="914.6" font-size="25.6" fill="#000">Non-significant Trend</text>
</svg></body></html>
